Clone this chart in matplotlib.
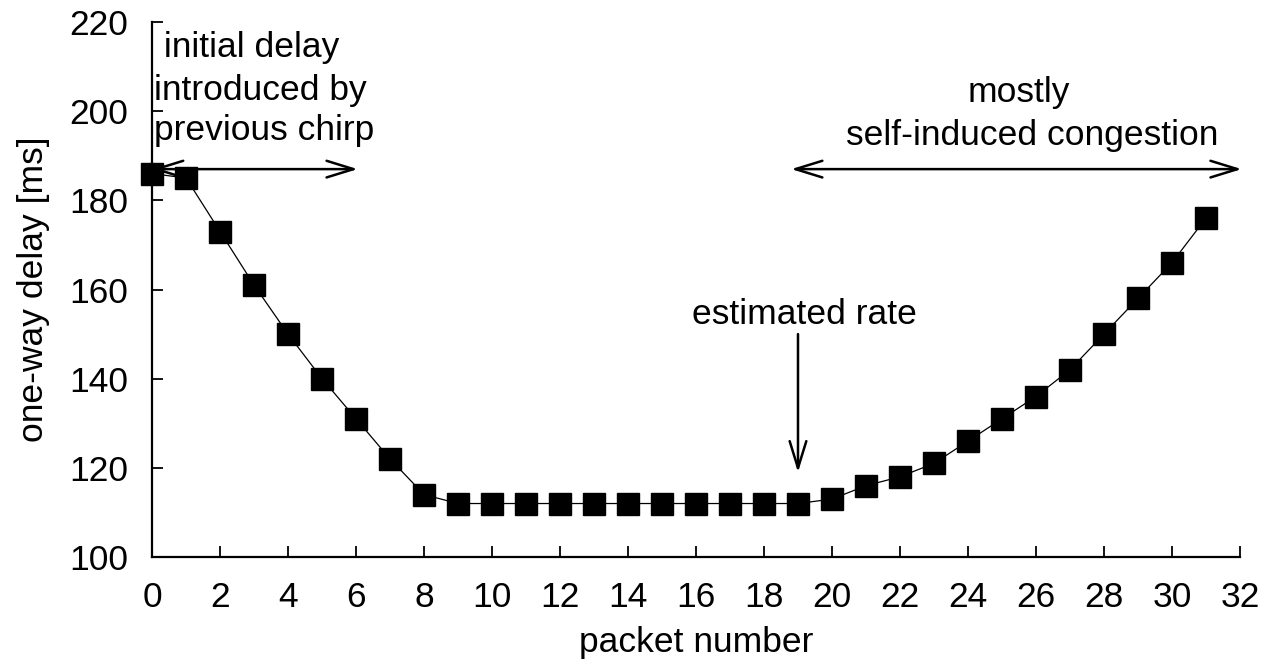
import matplotlib.pyplot as plt

plt.rcParams['font.family'] = ['Liberation Sans', 'DejaVu Sans']

packet = list(range(32))
delay = [186, 185, 173, 161, 150, 140, 131, 122, 114,
         112, 112, 112, 112, 112, 112, 112, 112, 112, 112, 112,
         113, 116, 118, 121, 126, 131, 136, 142, 150, 158, 166, 176]

xticks = list(range(0, 33, 2))
yticks = list(range(100, 221, 20))

fs = 25.5

fig = plt.figure(figsize=(12.65, 6.64), dpi=100)
ax = fig.add_axes([0.1202, 0.1611, 0.860, 0.8058])

ax.plot(packet, delay, color='black', lw=0.9, marker='s', markersize=16.5,
        markerfacecolor='black', markeredgecolor='black', clip_on=False, zorder=3)

ax.set_xlim(0, 32)
ax.set_ylim(100, 220)
ax.set_xticks(xticks)
ax.set_yticks(yticks)
for s in ['top', 'right']:
    ax.spines[s].set_visible(False)
for s in ['left', 'bottom']:
    ax.spines[s].set_linewidth(1.6)
ax.tick_params(direction='in', length=8, width=1.3, labelsize=fs, pad=17)

ax.set_xlabel('packet number', fontsize=fs, labelpad=9)
ax.set_ylabel('one-way delay [ms]', fontsize=fs, labelpad=14)

arrow = dict(arrowstyle='<->,head_length=0.97,head_width=0.3', lw=1.8,
             color='black', mutation_scale=20, shrinkA=0, shrinkB=0)
ax.annotate('', xy=(0, 187), xytext=(6.05, 187), arrowprops=arrow, annotation_clip=False)
ax.annotate('', xy=(18.8, 187), xytext=(32.05, 187), arrowprops=arrow, annotation_clip=False)
ax.annotate('', xy=(19, 119), xytext=(19, 150),
            arrowprops=dict(arrowstyle='->,head_length=0.97,head_width=0.3', lw=1.8,
                            color='black', mutation_scale=20, shrinkA=0, shrinkB=0))

ax.text(0.05, 214.3, ' initial delay', fontsize=fs, ha='left', va='center')
ax.text(0.05, 204.6, 'introduced by', fontsize=fs, ha='left', va='center')
ax.text(0.05, 195.6, 'previous chirp', fontsize=fs, ha='left', va='center')
ax.text(25.5, 204.2, 'mostly', fontsize=fs, ha='center', va='center')
ax.text(25.9, 194.6, 'self-induced congestion', fontsize=fs, ha='center', va='center')
ax.text(19.2, 154.3, 'estimated rate', fontsize=fs, ha='center', va='center')

fig.savefig('out.png', dpi=100)
